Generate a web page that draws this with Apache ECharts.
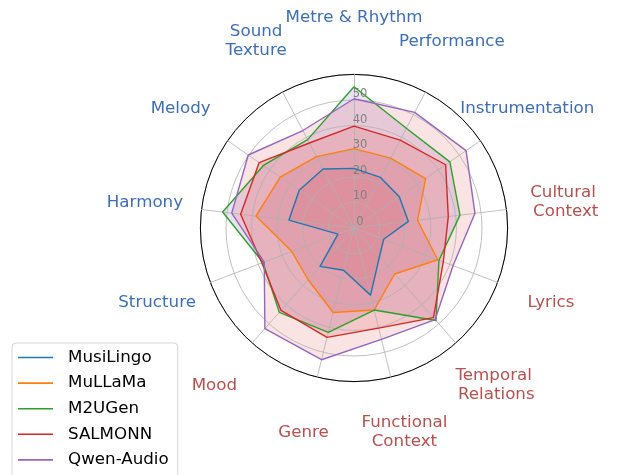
<!DOCTYPE html>
<html><head><meta charset="utf-8">
<script src="https://cdn.jsdelivr.net/npm/echarts@6/dist/echarts.min.js"></script>
<style>html,body{margin:0;padding:0;background:#fff}#c{width:617px;height:475px}</style>
</head><body><div id="c"></div>
<script>
// Axes in clockwise order starting from the top
const axes = ['Metre & Rhythm', 'Performance', 'Instrumentation', 'Cultural\n Context', 'Lyrics',
  'Temporal\n Relations', 'Functional\nContext', 'Genre', 'Mood', 'Structure', 'Harmony', 'Melody', 'Sound\nTexture'];
const axisGroup = ['a', 'a', 'a', 'b', 'b', 'b', 'b', 'b', 'b', 'a', 'a', 'a', 'a'];
const seriesNames = ['MusiLingo', 'MuLLaMa', 'M2UGen', 'SALMONN', 'Qwen-Audio'];
const musiLingo = [23.3, 22.3, 21.5, 21.4, 12.4, 15, 27, 17, 20, 6.7, 25.6, 26, 26];
const muLLaMa = [31, 30.8, 34, 25, 35, 24, 33, 34, 27, 26, 38.6, 35, 31.5];
const m2uGen = [55.2, 44, 45.5, 41.7, 35.5, 48.3, 33, 42, 44, 38, 51.7, 43, 39];
const salmonn = [39.8, 38.8, 43.5, 37.1, 37.3, 46.8, 40.3, 44, 43, 38.5, 44.6, 45, 37.5];
const qwenAudio = [50.5, 51, 53.2, 47.6, 41.4, 47.8, 44.8, 53, 52.5, 37.5, 48.1, 50.2, 43];
const tickLabels = [0, 10, 20, 30, 40, 50];
const rMax = 60;

const lineColors = ['#1f77b4', '#ff7f0e', '#2ca02c', '#d62728', '#9467bd'];
const fillColors = ['rgba(214,39,40,0.14)', 'rgba(214,39,40,0.14)', 'rgba(148,103,189,0.2)', 'rgba(214,39,40,0.14)', 'rgba(214,39,40,0.13)'];
const groupColor = { a: '#3d6eb4', b: '#b4504e' };
const allValues = [musiLingo, muLLaMa, m2uGen, salmonn, qwenAudio];

// ECharts radar runs counter-clockwise: reorder so that the picture reads clockwise
const order = [0];
for (let i = axes.length - 1; i >= 1; i--) order.push(i);
const reorder = arr => order.map(i => arr[i]);

const CX = 354, CY = 228, R = 153.6;
const FONT = 'DejaVu Sans';

const option = {
  backgroundColor: '#fff',
  animation: false,
  polar: { center: [CX, CY], radius: R },
  angleAxis: {
    type: 'value', min: 0, max: 360, startAngle: 90, z: 1,
    axisLine: { show: true, lineStyle: { color: '#000', width: 1 } },
    axisTick: { show: false }, axisLabel: { show: false }, splitLine: { show: false }
  },
  radiusAxis: {
    type: 'value', min: 0, max: rMax, interval: 10, z: 1,
    axisLine: { show: false }, axisTick: { show: false },
    splitLine: { show: true, lineStyle: { color: '#b0b0b0', width: 0.8 } },
    axisLabel: {
      formatter: v => (tickLabels.indexOf(v) >= 0 ? String(v) : ''),
      color: '#808080', fontSize: 11.5, fontFamily: FONT,
      align: 'center', verticalAlign: 'bottom', margin: -6
    }
  },
  radar: {
    center: [CX, CY], radius: R, startAngle: 90, shape: 'circle', splitNumber: 6, z: 1,
    splitLine: { show: false }, splitArea: { show: false },
    axisLine: { show: true, lineStyle: { color: '#b0b0b0', width: 0.8 } },
    axisTick: { show: false }, axisLabel: { show: false },
    nameGap: 57,
    axisName: { fontSize: 16.7, fontFamily: FONT, align: 'center', verticalAlign: 'middle', lineHeight: 19 },
    indicator: reorder(axes).map((n, k) => ({ name: n, min: 0, max: rMax, color: groupColor[reorder(axisGroup)[k]] }))
  },
  legend: {
    orient: 'vertical', left: 12, top: 343, height: 200, z: 5,
    padding: [6, 9, 10, 6], itemGap: 8.6, itemWidth: 35, itemHeight: 1.6, icon: 'rect',
    backgroundColor: 'rgba(255,255,255,0.8)', borderColor: '#d5d5d5', borderWidth: 1, borderRadius: 4,
    textStyle: { fontSize: 16.7, fontFamily: FONT, color: '#000', padding: [0, 0, 0, 10] },
    data: seriesNames
  },
  series: [
    {
      type: 'radar', name: 'fills', z: 0, silent: true, symbol: 'none',
      data: allValues.map((v, i) => ({
        name: '_fill' + i, value: reorder(v),
        lineStyle: { width: 0, opacity: 0 }, areaStyle: { color: fillColors[i], opacity: 1 }
      }))
    },
    {
      type: 'radar', name: 'lines', z: 3, symbol: 'none',
      data: allValues.map((v, i) => ({
        name: seriesNames[i], value: reorder(v),
        itemStyle: { color: lineColors[i] },
        lineStyle: { color: lineColors[i], width: 1.4 }
      }))
    }
  ]
};
const chart = echarts.init(document.getElementById('c'), null, { renderer: 'canvas' });
chart.setOption(option);
</script></body></html>
